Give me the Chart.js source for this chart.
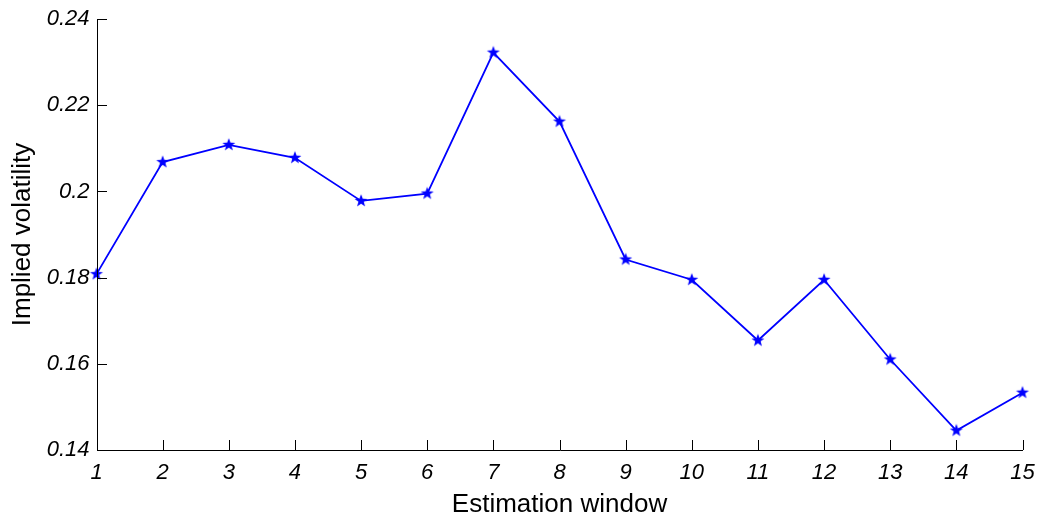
<!DOCTYPE html>
<html>
<head>
<meta charset="utf-8">
<script src="https://cdn.jsdelivr.net/npm/chart.js@4"></script>
<style>
html,body{margin:0;padding:0;background:#fff;}
#wrap{width:1042px;height:516px;position:relative;}
</style>
</head>
<body>
<div id="wrap"><canvas id="c" width="1042" height="516"></canvas></div>
<script>
const windows = [1,2,3,4,5,6,7,8,9,10,11,12,13,14,15];
const impliedVol = [0.1808,0.2068,0.2108,0.2078,0.1978,0.1995,0.2322,0.2162,0.1842,0.1795,0.1654,0.1795,0.1610,0.1445,0.1533];
const yTicks = [0.14,0.16,0.18,0.2,0.22,0.24];

function starMarker(){
  const s = 16, c = document.createElement('canvas');
  c.width = s; c.height = s;
  const g = c.getContext('2d');
  const cx = s/2, cy = s/2, R = 6.8, r = 2.8;
  g.beginPath();
  for(let i=0;i<10;i++){
    const ang = -Math.PI/2 + i*Math.PI/5;
    const rad = i%2===0 ? R : r;
    const x = cx + rad*Math.cos(ang), y = cy + rad*Math.sin(ang);
    if(i===0) g.moveTo(x,y); else g.lineTo(x,y);
  }
  g.closePath();
  g.fillStyle = '#0000ff';
  g.fill();
  return c;
}

const innerTicks = {
  id:'innerTicks',
  afterDraw(chart){
    const ctx = chart.ctx, xs = chart.scales.x, ys = chart.scales.y;
    const L = xs.left, B = ys.bottom;
    ctx.save();
    ctx.strokeStyle = '#000';
    ctx.lineWidth = 1;
    ctx.beginPath();
    ctx.moveTo(Math.round(L)+0.5, ys.top);
    ctx.lineTo(Math.round(L)+0.5, Math.round(B)+0.5);
    ctx.lineTo(xs.right+0.5, Math.round(B)+0.5);
    yTicks.forEach(v=>{
      const y = Math.round(ys.getPixelForValue(v))+0.5;
      ctx.moveTo(Math.round(L), y); ctx.lineTo(Math.round(L)+10, y);
    });
    windows.forEach((w,i)=>{
      const x = Math.round(xs.getPixelForValue(i))+0.5;
      ctx.moveTo(x, Math.round(B)); ctx.lineTo(x, Math.round(B)-10);
    });
    ctx.stroke();
    ctx.restore();
  }
};

new Chart(document.getElementById('c'), {
  type:'line',
  data:{
    labels: windows.map(String),
    datasets:[{
      data: impliedVol,
      borderColor:'#0000ff',
      borderWidth:1.8,
      pointStyle: starMarker(),
      pointRadius:6,
      tension:0,
      fill:false
    }]
  },
  options:{
    responsive:false,
    animation:false,
    devicePixelRatio:1,
    layout:{padding:{top:19,right:19.5,left:0,bottom:0}},
    plugins:{legend:{display:false},tooltip:{enabled:false}},
    scales:{
      x:{
        type:'category',
        offset:false,
        grid:{display:false, drawTicks:false},
        border:{display:false},
        ticks:{color:'#000',padding:10,maxRotation:0,autoSkip:false,font:{family:'Liberation Sans',size:22,style:'italic'}},
        title:{display:true,text:'Estimation window',color:'#000',font:{family:'Liberation Sans',size:26},padding:{top:0,bottom:-4}},
        afterFit(s){ s.height = 66; s.paddingLeft = 0; s.paddingRight = 0; }
      },
      y:{
        min:0.14,max:0.24,
        afterBuildTicks(s){ s.ticks = yTicks.map(v=>({value:v})); },
        grid:{display:false, drawTicks:false},
        border:{display:false},
        ticks:{color:'#000',padding:7,font:{family:'Liberation Sans',size:22,style:'italic'},
          callback:v=>String(parseFloat(Number(v).toFixed(2)))},
        title:{display:true,text:'Implied volatility',color:'#000',font:{family:'Liberation Sans',size:26},padding:{top:7.5,bottom:0}},
        afterFit(s){ s.width = 96.5; s.paddingTop = 0; s.paddingBottom = 0; }
      }
    }
  },
  plugins:[innerTicks]
});
</script>
</body>
</html>
